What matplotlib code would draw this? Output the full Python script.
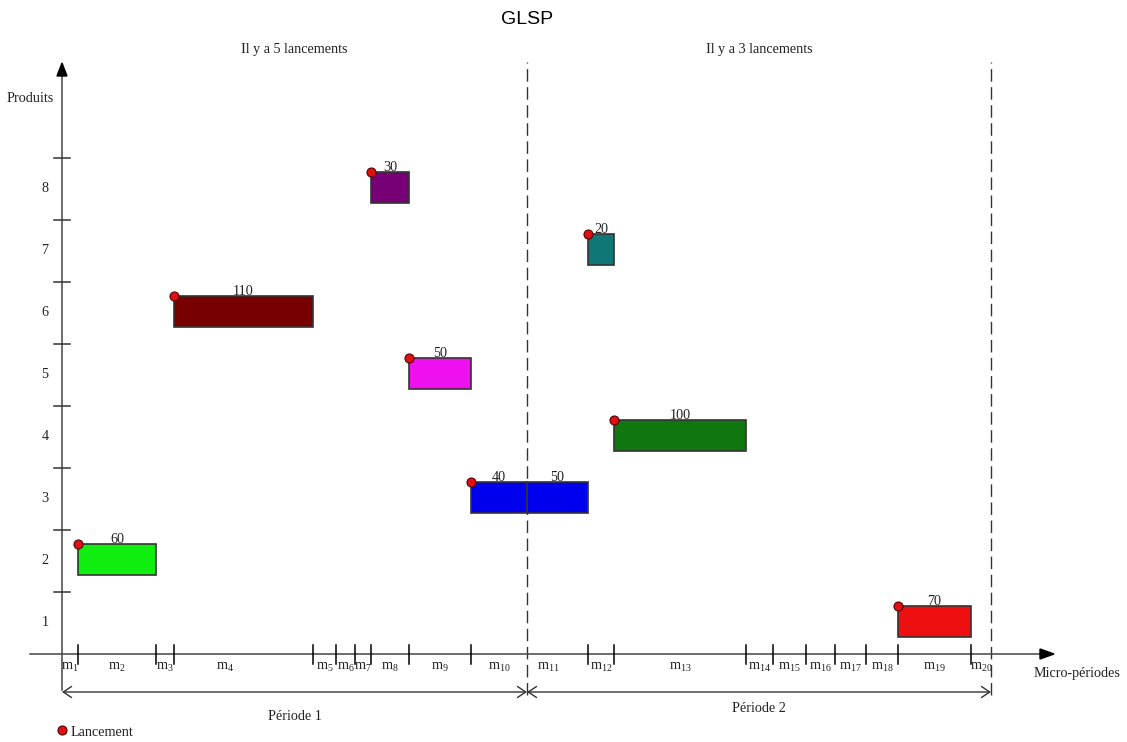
import numpy as np
import matplotlib
matplotlib.use("Agg")
import matplotlib.pyplot as plt
from matplotlib.patches import Rectangle, Polygon

plt.rcParams['font.family'] = ['Liberation Serif', 'DejaVu Serif']
plt.rcParams['mathtext.fontset'] = 'custom'
plt.rcParams['mathtext.rm'] = 'Liberation Serif'
plt.rcParams['mathtext.it'] = 'Liberation Serif:italic'

# ---------------- data ----------------
title = "GLSP"
micro_durations = [16, 78, 18, 139, 23, 19, 16, 38, 62, 56,
                   61, 26, 132, 27, 33, 29, 31, 32, 73, 20]
period_end_micro = [10, 20]           # periods end after m10 and m20
period_labels = ["Période 1", "Période 2"]
period_notes = ["Il y a 5 lancements", "Il y a 3 lancements"]
products = [1, 2, 3, 4, 5, 6, 7, 8]

bar_product = [2, 6, 8, 5, 3, 3, 7, 4, 1]
bar_micro = [2, 4, 8, 9, 10, 11, 12, 13, 19]
bar_qty = [60, 110, 30, 50, 40, 50, 20, 100, 70]
bar_launch = [True, True, True, True, True, False, True, True, True]
bar_color = ['#10ee10', '#770000', '#770077', '#ee10ee', '#0000ee',
             '#0000ee', '#107777', '#107710', '#ee1010']

# ---------------- layout ----------------
W, H = 1127, 742
FS = 10.2
fig = plt.figure(figsize=(W / 100, H / 100), dpi=100)
ax = fig.add_axes([0, 0, 1, 1])
ax.set_axis_off()
X0 = 62          # pixel of origin
Y0 = 654         # pixel of x-axis
UNIT = 62        # pixels per product

def vy(py):      # pixel y -> data y
    return 0.5 + (Y0 - py) / UNIT

def vx(px):      # pixel x -> data x
    return px - X0

ax.set_xlim(vx(0), vx(W))
ax.set_ylim(vy(H), vy(0))

bounds = np.concatenate([[0], np.cumsum(micro_durations)])
ink = '#333333'
txt = '#222222'

# axes lines with arrows
ax.plot([vx(30), vx(1042)], [0.5, 0.5], color='#444444', lw=1.1, zorder=2)
ax.add_patch(Polygon([[vx(1054), 0.5], [vx(1040), 0.5 + 5 / UNIT], [vx(1040), 0.5 - 5 / UNIT]],
                     closed=True, color='black', zorder=3))
ax.plot([0, 0], [vy(690), vy(76)], color='#444444', lw=1.1, zorder=2)
ax.add_patch(Polygon([[0, vy(63)], [vx(57), vy(76)], [vx(67), vy(76)]],
                     closed=True, color='black', zorder=3))

# y ticks & labels
for p in products:
    ax.plot([-8, 8], [p + 0.5, p + 0.5], color=ink, lw=1.1, zorder=2)
    ax.text(vx(45), p, str(p), ha='center', va='center', fontsize=FS, color=txt)
ax.text(vx(30), vy(99), "Produits", ha='center', va='center', fontsize=FS, color=txt)
ax.text(vx(1077), vy(674), "Micro-périodes", ha='center', va='center', fontsize=FS, color=txt)

# x ticks & micro labels
label_shift = {4: -19, 11: -9}
for i in range(1, len(bounds)):
    if i not in period_end_micro:
        ax.plot([bounds[i], bounds[i]], [0.5 - 10 / UNIT, 0.5 + 9 / UNIT], color='black', lw=1.1, zorder=2)
for i in range(len(micro_durations)):
    cx = (bounds[i] + bounds[i + 1]) / 2 + label_shift.get(i + 1, 0)
    ax.text(cx, vy(670), r'$\mathrm{m}_{%d}$' % (i + 1), ha='center', va='baseline',
            fontsize=FS, color=txt)

# period separators and arrows
prev = 0
period_label_y = [vy(717), vy(708)]
for k, pe in enumerate(period_end_micro):
    xe = bounds[pe]
    ax.plot([xe, xe], [vy(695), vy(62)], color=ink, lw=1.0, dashes=(9, 4), zorder=1)
    ax.annotate('', xy=(xe, vy(692)), xytext=(bounds[prev], vy(692)),
                arrowprops=dict(arrowstyle='<->,head_length=0.6,head_width=0.4',
                                color=ink, lw=1.0, shrinkA=0, shrinkB=0))
    cx = (bounds[prev] + xe) / 2
    ax.text(cx, period_label_y[k], period_labels[k], ha='center', va='center',
            fontsize=FS, color=txt)
    ax.text(cx, vy(50), period_notes[k], ha='center', va='center',
            fontsize=FS, color=txt)
    prev = pe

# bars
bh = 0.5
for p, m, q, l, c in zip(bar_product, bar_micro, bar_qty, bar_launch, bar_color):
    x1, x2 = bounds[m - 1], bounds[m]
    y1 = p - 0.23
    ax.add_patch(Rectangle((x1, y1), x2 - x1, bh, facecolor=c, edgecolor=ink, lw=1.2, zorder=4))
    ax.text((x1 + x2) / 2, y1 + bh + 1.5 / UNIT, str(q), ha='center', va='baseline',
            fontsize=FS, color=txt, zorder=6)
    if l:
        ax.plot([x1], [y1 + bh], 'o', ms=6.5, mfc='#e01010', mec='#550000', mew=0.8, zorder=7)

# legend
ax.plot([0], [vy(730)], 'o', ms=6.5, mfc='#e01010', mec='#550000', mew=0.8, zorder=7)
ax.text(vx(71), vy(732), "Lancement", ha='left', va='center', fontsize=FS, color=txt)

# title
ax.text(vx(527), vy(20), title, ha='center', va='center', fontsize=14,
        family=['Liberation Sans', 'DejaVu Sans'], color='black')

fig.savefig("out.png", dpi=100)
